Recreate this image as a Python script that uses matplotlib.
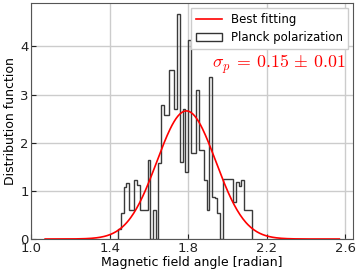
import numpy as np
import matplotlib
matplotlib.use("Agg")
import matplotlib.pyplot as plt

# Histogram (Planck polarization), bin edges and heights
bin_start = 1.443
bin_end = 2.125
heights = [0.2, 0.55, 1.08, 1.16, 0.6, 0.6, 1.22, 1.12, 0.6, 0.6,
           0.6, 1.64, 0.0, 0.6, 0.0, 1.57, 2.78, 2.57, 2.57, 3.5,
           3.5, 2.7, 4.68, 1.6, 2.7, 1.40, 4.13, 1.78, 1.78, 3.09,
           1.85, 1.85, 1.22, 0.6, 3.37, 0.88, 0.85, 0.55, 0.0, 1.24,
           1.24, 1.24, 1.24, 0.77, 1.19, 1.1, 1.22, 0.6, 0.6, 0.6]

# Best-fitting Gaussian
mu = 1.79
sigma = 0.15
fit_start = 1.07
fit_end = 2.57

xticks = [1.0, 1.4, 1.8, 2.2, 2.6]
yticks = [0, 1, 2, 3, 4]

plt.rcParams['mathtext.fontset'] = 'cm'

fig = plt.figure(figsize=(3.57, 2.73), dpi=100)
ax = fig.add_axes([0.088, 0.1245, 0.901, 0.8645])

edges = np.linspace(bin_start, bin_end, len(heights) + 1)
ax.stairs(heights, edges, fill=False, color='#3a3a3a', linewidth=1.0,
          zorder=3)

xf = np.linspace(fit_start, fit_end, 300)
yf = np.exp(-0.5 * ((xf - mu) / sigma) ** 2) / (sigma * np.sqrt(2 * np.pi))
ax.plot(xf, yf, color='red', linewidth=1.2, zorder=4)

ax.set_xlim(1.0, 2.64)
ax.set_ylim(0, 4.9)
ax.set_xticks(xticks)
ax.set_xticklabels(['1.0', '1.4', '1.8', '2.2', '2.6'])
ax.set_yticks(yticks)
ax.grid(True, color='#cccccc', linewidth=1.0, zorder=0)
ax.set_axisbelow(True)
ax.tick_params(direction='in', labelsize=9.5, pad=2, colors='#222222')
for s in ax.spines.values():
    s.set_color('#555555')

ax.set_xlabel('Magnetic field angle [radian]', fontsize=9, labelpad=1)
ax.set_ylabel('Distribution function', fontsize=9, labelpad=2)

from matplotlib.patches import Patch
from matplotlib.lines import Line2D
handles = [Line2D([0], [0], color='red', linewidth=1.2),
           Patch(facecolor='white', edgecolor='#333333')]
leg = ax.legend(handles, ['Best fitting', 'Planck polarization'],
                loc='upper right', fontsize=8.5, borderaxespad=0.45,
                framealpha=1.0, fancybox=False, handlelength=2.2,
                labelspacing=0.45)
leg.get_frame().set_edgecolor('#cccccc')

ax.text(0.978, 0.74, r'$\sigma_p\:=\:0.15\,\pm\,0.01$', color='red',
        fontsize=12.8, transform=ax.transAxes, ha='right', va='center')

fig.savefig('out.png', dpi=100)
